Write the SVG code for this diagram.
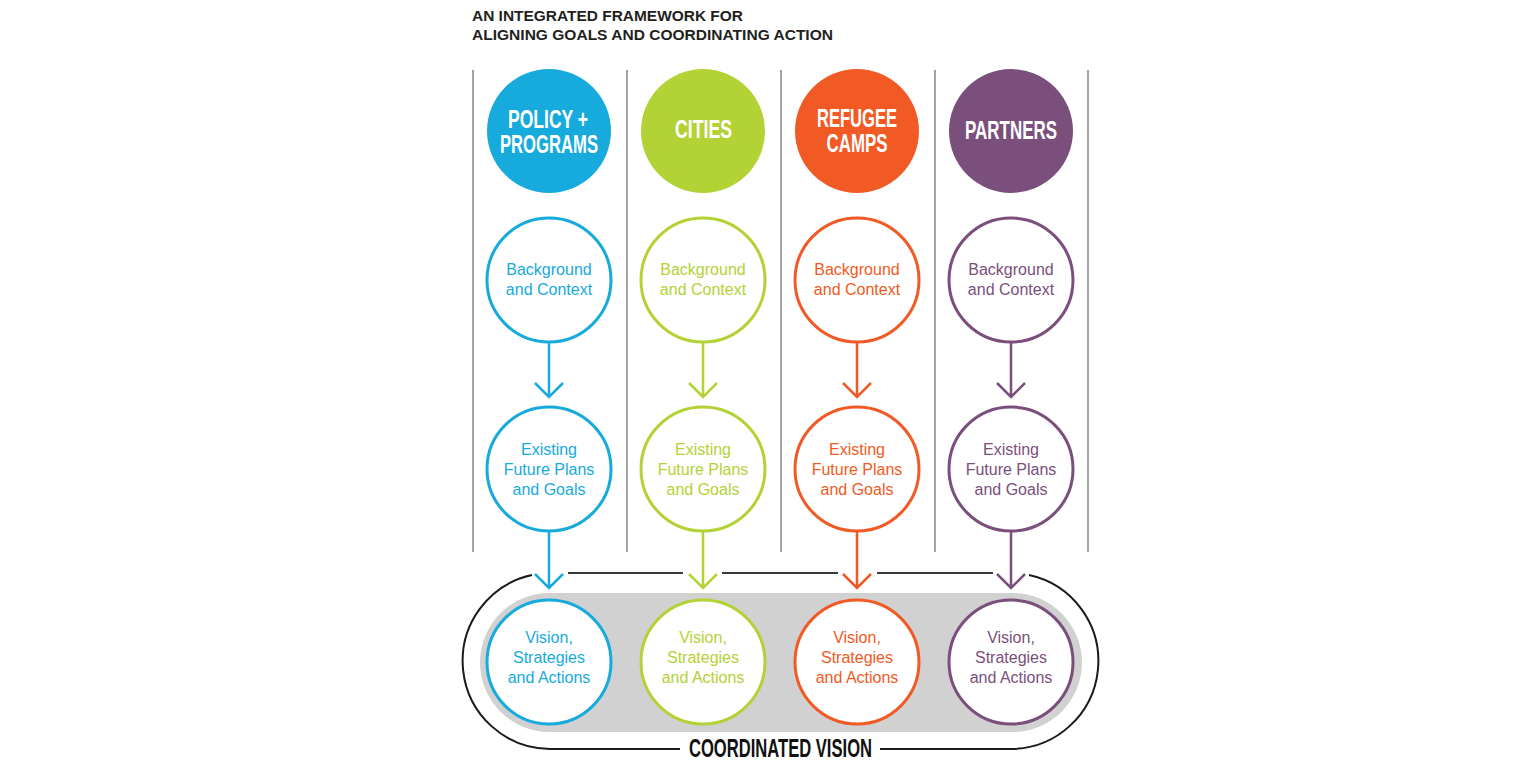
<svg xmlns="http://www.w3.org/2000/svg" width="1530" height="774" viewBox="0 0 1530 774">
<style>
.title{font-family:"Liberation Sans",Arial,sans-serif;font-weight:bold;font-size:15px;fill:#231f20}
.head{font-family:"Liberation Sans",Arial,sans-serif;font-weight:bold;font-size:25px;fill:#ffffff;text-anchor:middle}
.lbl{font-family:"Liberation Sans",Arial,sans-serif;font-size:16px;text-anchor:middle}
.ring{fill:#ffffff;stroke-width:3}
.sep{stroke:#8c8c8c;stroke-width:1.6;fill:none}
.arr{fill:none;stroke-width:2.5;stroke-linecap:butt}
.blue{stroke:#17aadd}
.green{stroke:#b3d235}
.orange{stroke:#f15a24}
.purple{stroke:#7b4f7c}
.tblue{fill:#17aadd}
.tgreen{fill:#b3d235}
.torange{fill:#f15a24}
.tpurple{fill:#7b4f7c}
.bar{stroke:#3a3a3a;stroke-width:2.2;fill:none}
.loop{stroke:#1a1a1a;stroke-width:2;fill:none}
.cv{font-family:"Liberation Sans",Arial,sans-serif;font-weight:bold;font-size:26px;fill:#111111;text-anchor:middle}
</style>
<rect width="1530" height="774" fill="#ffffff"/>
<g id="title">
<text class="title" x="472" y="21" textLength="271" lengthAdjust="spacingAndGlyphs">AN INTEGRATED FRAMEWORK FOR</text>
<text class="title" x="472" y="40" textLength="361" lengthAdjust="spacingAndGlyphs">ALIGNING GOALS AND COORDINATING ACTION</text>
</g>
<g id="separators">
<line class="sep" x1="473" y1="70" x2="473" y2="552"/>
<line class="sep" x1="627" y1="70" x2="627" y2="552"/>
<line class="sep" x1="781" y1="70" x2="781" y2="552"/>
<line class="sep" x1="935" y1="70" x2="935" y2="552"/>
<line class="sep" x1="1088" y1="70" x2="1088" y2="552"/>
</g>
<g id="coordinated-vision-band">
<rect x="480" y="593" width="602" height="139" rx="69.5" ry="69.5" fill="#d1d1d1"/>
</g>
<g id="connectors">
<path class="bar" d="M568,573 H683 M722,573 H838 M877,573 H993"/>
<path class="loop" d="M532,575 A88,88 0 0,0 550,749 L680,749"/>
<path class="loop" d="M1029,575 A88,88 0 0,1 1011,749 L880,749"/>
<path class="arr blue" d="M549,343 V397 M535,383 L549,397 L563,383"/>
<path class="arr green" d="M703,343 V397 M689,383 L703,397 L717,383"/>
<path class="arr orange" d="M857,343 V397 M843,383 L857,397 L871,383"/>
<path class="arr purple" d="M1011,343 V397 M997,383 L1011,397 L1025,383"/>
<path class="arr blue" d="M549,532 V588 M535,574 L549,588 L563,574"/>
<path class="arr green" d="M703,532 V588 M689,574 L703,588 L717,574"/>
<path class="arr orange" d="M857,532 V588 M843,574 L857,588 L871,574"/>
<path class="arr purple" d="M1011,532 V588 M997,574 L1011,588 L1025,574"/>
</g>
<g id="policy-programs">
<circle cx="549" cy="131" r="62" fill="#17aadd"/>
<text class="head" x="548" y="128" textLength="80" lengthAdjust="spacingAndGlyphs">POLICY +</text>
<text class="head" x="549" y="153" textLength="98" lengthAdjust="spacingAndGlyphs">PROGRAMS</text>
</g>
<g id="cities">
<circle cx="703" cy="131" r="62" fill="#b3d235"/>
<text class="head" x="703.5" y="138" textLength="57" lengthAdjust="spacingAndGlyphs">CITIES</text>
</g>
<g id="refugee-camps">
<circle cx="857" cy="131" r="62" fill="#f15a24"/>
<text class="head" x="857" y="127" textLength="80" lengthAdjust="spacingAndGlyphs">REFUGEE</text>
<text class="head" x="857" y="152" textLength="61" lengthAdjust="spacingAndGlyphs">CAMPS</text>
</g>
<g id="partners">
<circle cx="1011" cy="131" r="62" fill="#7b4f7c"/>
<text class="head" x="1011" y="139" textLength="92" lengthAdjust="spacingAndGlyphs">PARTNERS</text>
</g>
<g id="background-policy">
<circle class="ring blue" cx="549" cy="280" r="62"/>
<text class="lbl tblue" x="549" y="275">Background</text>
<text class="lbl tblue" x="549" y="295">and Context</text>
</g>
<g id="background-cities">
<circle class="ring green" cx="703" cy="280" r="62"/>
<text class="lbl tgreen" x="703" y="275">Background</text>
<text class="lbl tgreen" x="703" y="295">and Context</text>
</g>
<g id="background-camps">
<circle class="ring orange" cx="857" cy="280" r="62"/>
<text class="lbl torange" x="857" y="275">Background</text>
<text class="lbl torange" x="857" y="295">and Context</text>
</g>
<g id="background-partners">
<circle class="ring purple" cx="1011" cy="280" r="62"/>
<text class="lbl tpurple" x="1011" y="275">Background</text>
<text class="lbl tpurple" x="1011" y="295">and Context</text>
</g>
<g id="plans-policy">
<circle class="ring blue" cx="549" cy="469" r="62"/>
<text class="lbl tblue" x="549" y="455">Existing</text>
<text class="lbl tblue" x="549" y="475">Future Plans</text>
<text class="lbl tblue" x="549" y="495">and Goals</text>
</g>
<g id="plans-cities">
<circle class="ring green" cx="703" cy="469" r="62"/>
<text class="lbl tgreen" x="703" y="455">Existing</text>
<text class="lbl tgreen" x="703" y="475">Future Plans</text>
<text class="lbl tgreen" x="703" y="495">and Goals</text>
</g>
<g id="plans-camps">
<circle class="ring orange" cx="857" cy="469" r="62"/>
<text class="lbl torange" x="857" y="455">Existing</text>
<text class="lbl torange" x="857" y="475">Future Plans</text>
<text class="lbl torange" x="857" y="495">and Goals</text>
</g>
<g id="plans-partners">
<circle class="ring purple" cx="1011" cy="469" r="62"/>
<text class="lbl tpurple" x="1011" y="455">Existing</text>
<text class="lbl tpurple" x="1011" y="475">Future Plans</text>
<text class="lbl tpurple" x="1011" y="495">and Goals</text>
</g>
<g id="vision-policy">
<circle class="ring blue" cx="549" cy="662" r="62"/>
<text class="lbl tblue" x="549" y="643">Vision,</text>
<text class="lbl tblue" x="549" y="663">Strategies</text>
<text class="lbl tblue" x="549" y="683">and Actions</text>
</g>
<g id="vision-cities">
<circle class="ring green" cx="703" cy="662" r="62"/>
<text class="lbl tgreen" x="703" y="643">Vision,</text>
<text class="lbl tgreen" x="703" y="663">Strategies</text>
<text class="lbl tgreen" x="703" y="683">and Actions</text>
</g>
<g id="vision-camps">
<circle class="ring orange" cx="857" cy="662" r="62"/>
<text class="lbl torange" x="857" y="643">Vision,</text>
<text class="lbl torange" x="857" y="663">Strategies</text>
<text class="lbl torange" x="857" y="683">and Actions</text>
</g>
<g id="vision-partners">
<circle class="ring purple" cx="1011" cy="662" r="62"/>
<text class="lbl tpurple" x="1011" y="643">Vision,</text>
<text class="lbl tpurple" x="1011" y="663">Strategies</text>
<text class="lbl tpurple" x="1011" y="683">and Actions</text>
</g>
<g id="coordinated-vision-label">
<text class="cv" x="780.5" y="757" textLength="183" lengthAdjust="spacingAndGlyphs">COORDINATED VISION</text>
</g>
</svg>
